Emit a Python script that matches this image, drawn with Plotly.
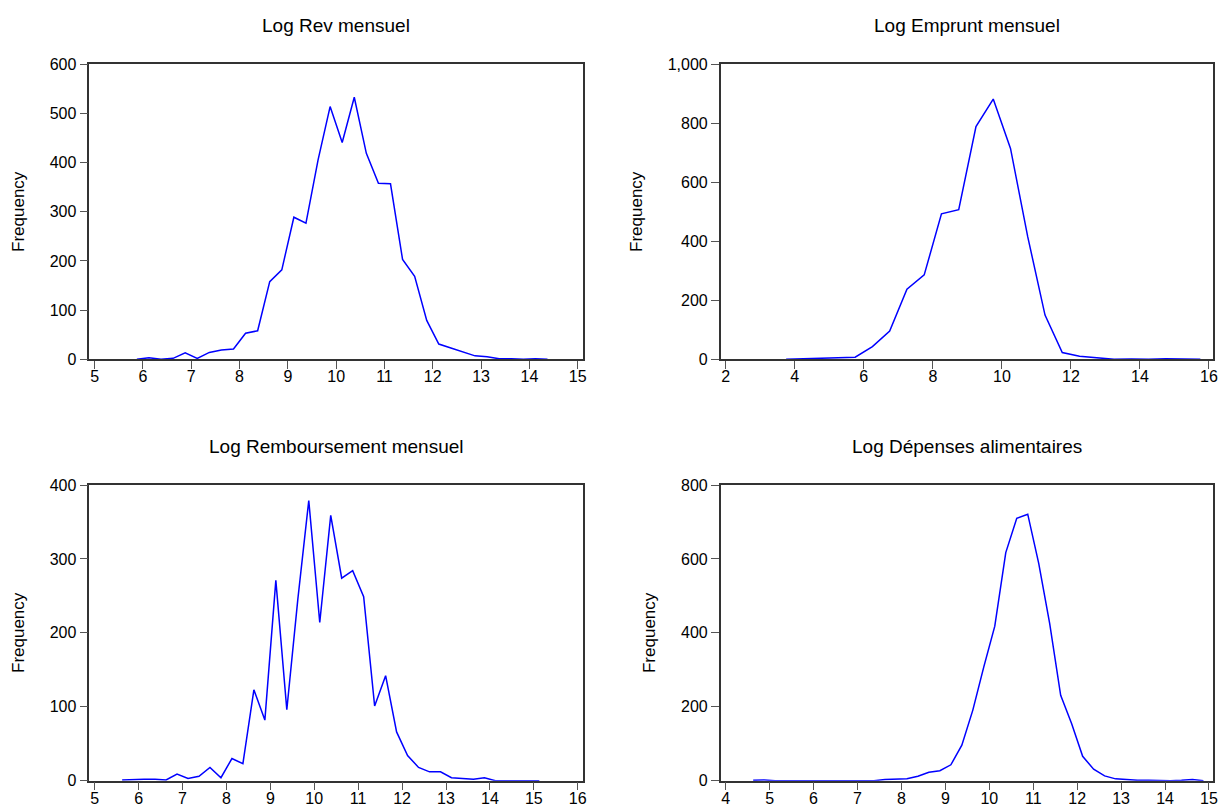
import plotly.graph_objects as go

# Log Rev mensuel (bin centres, frequencies)
rev_x = [5.875, 6.125, 6.375, 6.625, 6.875, 7.125, 7.375, 7.625, 7.875, 8.125,
         8.375, 8.625, 8.875, 9.125, 9.375, 9.625, 9.875, 10.125, 10.375, 10.625,
         10.875, 11.125, 11.375, 11.625, 11.875, 12.125, 12.375, 12.625, 12.875, 13.125,
         13.375, 13.625, 13.875, 14.125, 14.375]
rev_y = [0, 3, 0, 2, 13, 2, 14, 19, 21, 53,
         58, 158, 182, 289, 277, 405, 514, 441, 533, 419,
         358, 357, 203, 169, 79, 31, 23, 15, 7, 5,
         1, 1, 0, 1, 0]

# Log Emprunt mensuel
emp_x = [3.75, 4.25, 4.75, 5.25, 5.75, 6.25, 6.75, 7.25, 7.75, 8.25,
         8.75, 9.25, 9.75, 10.25, 10.75, 11.25, 11.75, 12.25, 12.75, 13.25,
         13.75, 14.25, 14.75, 15.25, 15.75]
emp_y = [0, 2, 3, 4, 7, 43, 96, 238, 286, 493,
         507, 789, 882, 715, 415, 150, 23, 10, 4, 0,
         1, 0, 2, 1, 0]

# Log Remboursement mensuel
remb_x = [5.625, 5.875, 6.125, 6.375, 6.625, 6.875, 7.125, 7.375, 7.625, 7.875,
          8.125, 8.375, 8.625, 8.875, 9.125, 9.375, 9.625, 9.875, 10.125, 10.375,
          10.625, 10.875, 11.125, 11.375, 11.625, 11.875, 12.125, 12.375, 12.625, 12.875,
          13.125, 13.375, 13.625, 13.875, 14.125, 14.375, 14.625, 14.875, 15.125]
remb_y = [1, 2, 2, 2, 1, 9, 3, 6, 18, 4,
          30, 23, 123, 82, 271, 96, 245, 379, 214, 359,
          274, 284, 249, 101, 142, 66, 34, 18, 12, 12,
          4, 3, 2, 4, 0, 0, 0, 1, 0]

# Log Dépenses alimentaires
dep_x = [4.625, 4.875, 5.125, 5.375, 5.625, 5.875, 6.125, 6.375, 6.625, 6.875,
         7.125, 7.375, 7.625, 7.875, 8.125, 8.375, 8.625, 8.875, 9.125, 9.375,
         9.625, 9.875, 10.125, 10.375, 10.625, 10.875, 11.125, 11.375, 11.625, 11.875,
         12.125, 12.375, 12.625, 12.875, 13.125, 13.375, 13.625, 13.875, 14.125, 14.375,
         14.625, 14.875]
dep_y = [1, 2, 0, 0, 0, 0, 0, 0, 0, 0,
         2, 0, 3, 3, 5, 12, 23, 27, 43, 96,
         191, 308, 418, 617, 710, 721, 588, 425, 231, 154,
         66, 31, 13, 5, 2, 1, 1, 0, 0, 1,
         3, 0]

W, H = 1221, 805
LINE_COLOR = "#0000ff"
FRAME_COLOR = "#333333"
FONT = "Liberation Sans, Arial, sans-serif"

# (title, x, y, x range, x dtick, y max, y dtick, pixel box l, r, top, bottom)
panels = [
    ("Log Rev mensuel", rev_x, rev_y, [4.89, 15.11], 1, 600, 100, 89.3, 583.0, 64.3, 359.3),
    ("Log Emprunt mensuel", emp_x, emp_y, [1.855, 16.125], 2, 1000, 200, 720.7, 1213.3, 64.3, 359.3),
    ("Log Remboursement mensuel", remb_x, remb_y, [4.877, 16.12], 1, 400, 100, 89.3, 583.0, 485.0, 780.7),
    ("Log Dépenses alimentaires", dep_x, dep_y, [3.886, 15.099], 1, 800, 200, 720.7, 1213.3, 485.0, 780.7),
]

fig = go.Figure()
layout = dict(
    width=W, height=H, margin=dict(l=0, r=0, t=0, b=0),
    paper_bgcolor="white", plot_bgcolor="white", showlegend=False,
    font=dict(family=FONT, color="black", size=16),
    annotations=[],
)

for i, (title, xs, ys, xr, xd, ymax, yd, l, r, t, b) in enumerate(panels, start=1):
    sfx = "" if i == 1 else str(i)
    fig.add_trace(go.Scatter(x=xs, y=ys, mode="lines", xaxis="x" + sfx, yaxis="y" + sfx,
                             line=dict(color=LINE_COLOR, width=1.5)))
    axis_common = dict(showgrid=False, zeroline=False, showline=True, mirror=True,
                       linecolor=FRAME_COLOR, linewidth=1.5, ticks="outside", ticklen=8,
                       tickcolor="#555555", tickwidth=1, tickfont=dict(size=16),
                       automargin=False)
    layout["xaxis" + sfx] = dict(axis_common, domain=[l / W, r / W], range=xr, dtick=xd,
                                 tick0=0, anchor="y" + sfx, ticklabelstandoff=-6)
    layout["yaxis" + sfx] = dict(axis_common, domain=[1 - b / H, 1 - t / H], range=[0, ymax],
                                 dtick=yd, tickformat=",d", anchor="x" + sfx,
                                 title=dict(text="Frequency", font=dict(size=17), standoff=21))
    layout["annotations"].append(dict(
        text=title, xref="paper", yref="paper", x=(l + r) / 2 / W, y=1 - (t - 38.5) / H,
        xanchor="center", yanchor="middle", showarrow=False, font=dict(size=19)))

fig.update_layout(**layout)
# drop the page's default body margin so the 1221x805 figure sits at the window origin
fig.write_html("out.html", config={"displayModeBar": False},
               post_script="document.body.style.margin='0';")
